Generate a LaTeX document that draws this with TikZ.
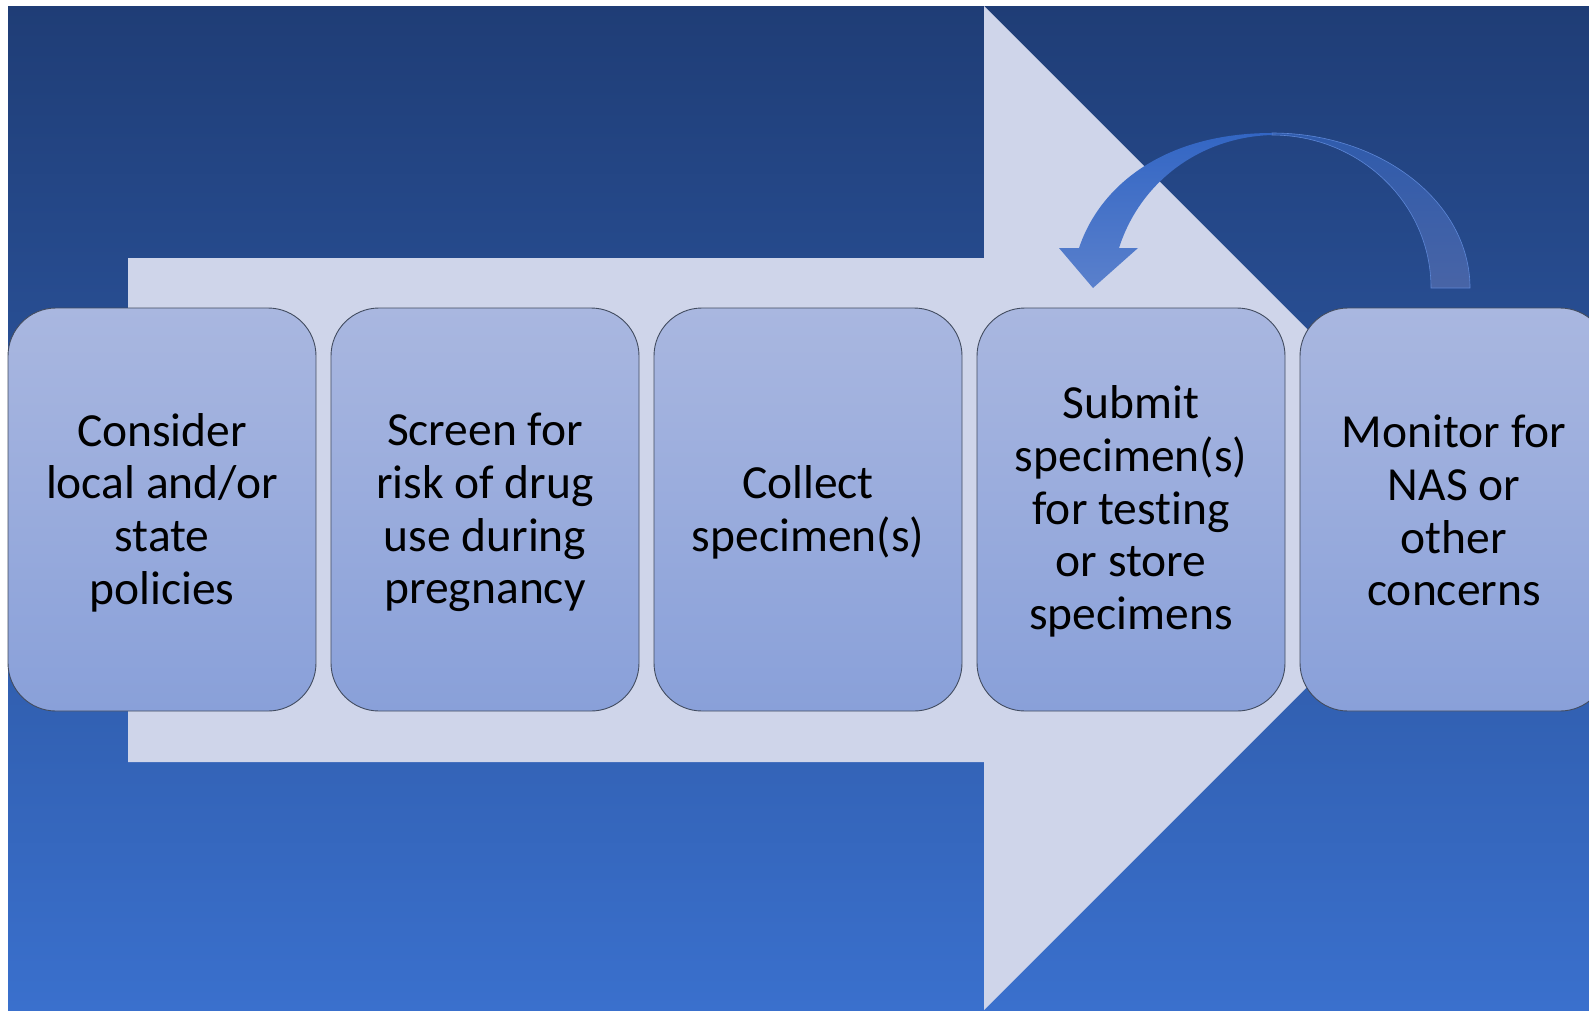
\documentclass[tikz,border=0pt]{standalone}
\usepackage{fontspec}
\setmainfont{Carlito}[Ligatures={NoCommon}]
\definecolor{bgtop}{HTML}{1F3D76}
\definecolor{bgbot}{HTML}{3A70CD}
\definecolor{bigarrow}{HTML}{CFD5EA}
\definecolor{boxtop}{HTML}{A9B7E0}
\definecolor{boxbot}{HTML}{89A0D9}
\definecolor{boxline}{HTML}{424C60}
\definecolor{cLtop}{HTML}{3366C4}
\definecolor{cLbot}{HTML}{5A80CC}
\definecolor{cRtop}{HTML}{2F5BAC}
\definecolor{cRbot}{HTML}{4864A6}
\definecolor{cRline}{HTML}{5C86D6}
\tikzset{
  stepbox/.style={draw=boxline, line width=0.9pt, top color=boxtop, bottom color=boxbot,
    rounded corners=48pt, minimum width=308pt, minimum height=403pt, inner sep=0pt},
  steptext/.style={align=center, text=black, inner sep=0pt, font=\fontsize{47.5}{52.7}\selectfont},
}
\begin{document}
\begin{tikzpicture}[x=1pt,y=-1pt]
\useasboundingbox (0,0) rectangle (1589,1010);
\clip (0,0) rectangle (1589,1010);
\fill[white] (0,0) rectangle (1589,1010);
% background
\shade[top color=bgtop, bottom color=bgbot] (8,6) rectangle (1589,1010);
% big arrow
\fill[bigarrow] (128,258) -- (984,258) -- (984,6) -- (1486,508) -- (984,1010) -- (984,762) -- (128,762) -- cycle;
% boxes
\node[stepbox] (b1) at (162,509.5) {};
\node[stepbox] (b2) at (485,509.5) {};
\node[stepbox] (b3) at (808,509.5) {};
\node[stepbox] (b4) at (1131,509.5) {};
\node[stepbox] (b5) at (1454,509.5) {};
\node[steptext] (t1) at ([yshift=-3pt]b1.center) {Consider\\local and/or\\state\\policies};
\node[steptext] (t2) at ([yshift=-3pt]b2.center) {Screen for\\risk of drug\\use during\\pregnancy};
\node[steptext] (t3) at ([yshift=-3pt]b3.center) {Collect\\specimen(s)};
\node[steptext] (t4) at ([yshift=-2pt]b4.center) {Submit\\specimen(s)\\for testing\\or store\\specimens};
\node[steptext] (t5) at ([yshift=-1pt]b5.center) {Monitor for\\NAS or\\other\\concerns};
% curved arrow: right part (tail)
\coordinate (tailO) at (1470,288);
\coordinate (tailI) at (1431,288);
\coordinate (topO) at (1272,133);
\coordinate (topI) at (1272,135);
\shade[top color=cRtop, bottom color=cRbot, draw=cRline, line width=0.6pt]
  (tailO) .. controls (1470,202.4) and (1381.4,133) .. (topO)
  -- (topI) .. controls (1359.8,135) and (1431,203.5) .. (tailI) -- cycle;
% curved arrow: left part (head)
\coordinate (tip) at (1093,288);
\shade[top color=cLtop, bottom color=cLbot]
  (topO) .. controls (1165,133) and (1100,185) .. (1079,248)
  -- (1059,248) -- (tip) -- (1138,248) -- (1119,248)
  .. controls (1140,182) and (1200,137) .. (topI) -- cycle;
\end{tikzpicture}
\end{document}
